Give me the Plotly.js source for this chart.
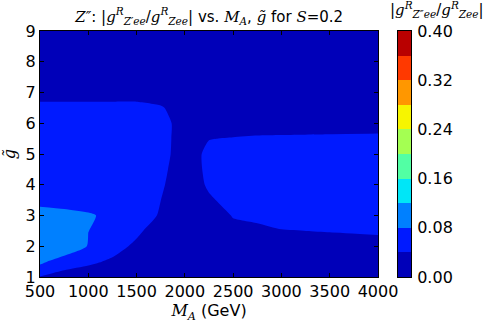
<!DOCTYPE html>
<html>
<head>
<meta charset="utf-8">
<script src="https://cdn.plot.ly/plotly-3.0.1.min.js"></script>
<style>
  html, body { margin: 0; padding: 0; background: #fff; }
  #chart { width: 491px; height: 327px; }
</style>
</head>
<body>
<div id="chart"></div>
<script>
// M_A grid (GeV)
var massA = [500, 750, 1000, 1250, 1500, 1750, 2000, 2250, 2500, 2750, 3000, 3500, 4000];
// g-tilde grid
var gTilde = [1, 1.5, 2, 2.5, 3, 3.5, 4, 4.5, 5, 5.5, 6, 6.5, 7, 7.5, 8, 9];
// |g^R_Z'ee / g^R_Zee|, one row per g-tilde value
var ratio = [
  [0.038, 0.0276, 0.010, 0.005, 0.003, 0.002, 0.002, 0.003, 0.004, 0.005, 0.006, 0.008, 0.010],
  [0.090, 0.0558, 0.050, 0.0321, 0.020, 0.008, 0.004, 0.005, 0.007, 0.009, 0.011, 0.013, 0.016],
  [0.120, 0.120, 0.0774, 0.060, 0.0297, 0.010, 0.005, 0.008, 0.012, 0.015, 0.018, 0.020, 0.026],
  [0.115, 0.105, 0.0803, 0.070, 0.050, 0.0132, 0.010, 0.015, 0.031, 0.028, 0.0379, 0.042, 0.045],
  [0.107, 0.0933, 0.0838, 0.072, 0.065, 0.0352, 0.020, 0.020, 0.042, 0.052, 0.059, 0.062, 0.062],
  [0.060, 0.062, 0.064, 0.064, 0.062, 0.0402, 0.020, 0.036, 0.050, 0.056, 0.060, 0.062, 0.063],
  [0.058, 0.060, 0.062, 0.062, 0.060, 0.0443, 0.020, 0.0443, 0.052, 0.056, 0.060, 0.062, 0.063],
  [0.058, 0.060, 0.062, 0.062, 0.061, 0.0486, 0.020, 0.0478, 0.054, 0.057, 0.060, 0.062, 0.063],
  [0.058, 0.060, 0.062, 0.062, 0.062, 0.054, 0.020, 0.0487, 0.054, 0.057, 0.059, 0.061, 0.062],
  [0.060, 0.061, 0.062, 0.062, 0.062, 0.0557, 0.020, 0.039, 0.042, 0.045, 0.046, 0.048, 0.050],
  [0.062, 0.062, 0.062, 0.062, 0.062, 0.0565, 0.020, 0.015, 0.020, 0.020, 0.020, 0.020, 0.020],
  [0.060, 0.060, 0.060, 0.060, 0.060, 0.0443, 0.018, 0.015, 0.015, 0.015, 0.015, 0.015, 0.015],
  [0.010, 0.010, 0.010, 0.010, 0.010, 0.0174, 0.012, 0.012, 0.012, 0.012, 0.012, 0.012, 0.012],
  [0.008, 0.008, 0.008, 0.008, 0.008, 0.008, 0.008, 0.008, 0.008, 0.008, 0.008, 0.008, 0.008],
  [0.006, 0.006, 0.006, 0.006, 0.006, 0.006, 0.006, 0.006, 0.006, 0.006, 0.006, 0.006, 0.006],
  [0.004, 0.004, 0.004, 0.004, 0.004, 0.004, 0.004, 0.004, 0.004, 0.004, 0.004, 0.004, 0.004]
];
// contour levels and colour-bar ticks
var levels = [0, 0.04, 0.08, 0.12, 0.16, 0.20, 0.24, 0.28, 0.32, 0.36, 0.40];
var levelTicks = [0, 0.08, 0.16, 0.24, 0.32, 0.40];

// jet colours of the 10 bands (0.00-0.04 ... 0.36-0.40)
var bandColors = ['#0000b9', '#001aff', '#0080ff', '#00e6f7', '#52ffa4',
                  '#a4ff52', '#f7f500', '#ff9700', '#ff3900', '#b90000'];

var step = levels[1] - levels[0];
var lo = levels[0] - step / 2, hi = levels[levels.length - 1] + step / 2;

// plotly picks band k at (k+1)/11 of the scale (contour make_color_map)
var scale = [[0, bandColors[0]]];
for (var k = 0; k < bandColors.length; k++) {
  scale.push([(k + 1) / (bandColors.length + 1), bandColors[k]]);
}
scale.push([1, bandColors[bandColors.length - 1]]);

// colour bar drawn as a one-column heatmap, one cell per band
var barMid = [];
for (var i = 0; i < levels.length - 1; i++) {
  barMid.push([(levels[i] + levels[i + 1]) / 2]);
}

var mathFont = 'DejaVu Serif';
function m(s) { return '<span style="font-family:' + mathFont + '"><i>' + s + '</i></span>'; }

var contour = {
  type: 'contour',
  x: massA,
  y: gTilde,
  z: ratio,
  autocontour: false,
  contours: {start: levels[0], end: levels[levels.length - 1], size: step, coloring: 'fill', showlines: false},
  line: {width: 0, smoothing: 0.6},
  colorscale: scale,
  showscale: false,
  hoverinfo: 'none'
};

var bar = {
  type: 'heatmap',
  x: [0],
  y: levels,
  z: barMid,
  xaxis: 'x2',
  yaxis: 'y2',
  zmin: lo,
  zmax: hi,
  colorscale: scale,
  showscale: false,
  hoverinfo: 'none'
};

var layout = {
  width: 491,
  height: 327,
  margin: {l: 40, r: 80, t: 31, b: 50},
  paper_bgcolor: '#fff',
  plot_bgcolor: '#fff',
  font: {family: 'DejaVu Sans', size: 16, color: '#000'},
  showlegend: false,
  title: {
    text: m('Z″') + ': |' + m('g') + '<sup>' + m('R') + '</sup><sub>' + m('Z′ee') + '</sub>/' +
          m('g') + '<sup>' + m('R') + '</sup><sub>' + m('Zee') + '</sub>| vs. ' +
          m('M') + '<sub>' + m('A') + '</sub>, ' + m('g̃') + ' for ' + m('S') + '=0.2',
    font: {size: 15},
    x: 0.426, xanchor: 'center', y: 0.95, yanchor: 'middle'
  },
  xaxis: {
    domain: [0, 338 / 371],
    range: [500, 4000],
    tickvals: [500, 1000, 1500, 2000, 2500, 3000, 3500, 4000],
    ticks: 'inside', ticklen: 4, tickcolor: '#000',
    showline: true, linecolor: '#000', linewidth: 1, mirror: 'ticks',
    showgrid: false, zeroline: false,
    tickfont: {size: 16},
    title: {text: m('M') + '<sub>' + m('A') + '</sub> (GeV)', font: {size: 16}, standoff: 0}
  },
  yaxis: {
    domain: [0, 1],
    range: [1, 9],
    dtick: 1,
    ticks: 'inside', ticklen: 4, tickcolor: '#000',
    showline: true, linecolor: '#000', linewidth: 1, mirror: 'ticks',
    showgrid: false, zeroline: false,
    tickfont: {size: 16},
    title: {text: m('g̃'), font: {size: 16}, standoff: 6}
  },
  xaxis2: {
    domain: [358 / 371, 1],
    anchor: 'y2',
    range: [-0.5, 0.5],
    showticklabels: false, ticks: '',
    showline: true, linecolor: '#000', linewidth: 1, mirror: true,
    showgrid: false, zeroline: false
  },
  yaxis2: {
    domain: [0, 1],
    anchor: 'x2',
    side: 'right',
    range: [levels[0], levels[levels.length - 1]],
    tickvals: levelTicks, tickformat: '.2f',
    ticks: 'outside', ticklen: 2, tickcolor: 'rgba(0,0,0,0)',
    showline: true, linecolor: '#000', linewidth: 1, mirror: true,
    showgrid: false, zeroline: false,
    tickfont: {size: 16}
  },
  annotations: [{
    xref: 'paper', yref: 'paper',
    x: 1.07, y: 1.088, xanchor: 'center', yanchor: 'middle',
    showarrow: false,
    font: {size: 15},
    text: '|' + m('g') + '<sup>' + m('R') + '</sup><sub>' + m('Z″ee') + '</sub>/' +
          m('g') + '<sup>' + m('R') + '</sup><sub>' + m('Zee') + '</sub>|'
  }]
};

Plotly.newPlot('chart', [contour, bar], layout, {staticPlot: true, displayModeBar: false});
</script>
</body>
</html>
